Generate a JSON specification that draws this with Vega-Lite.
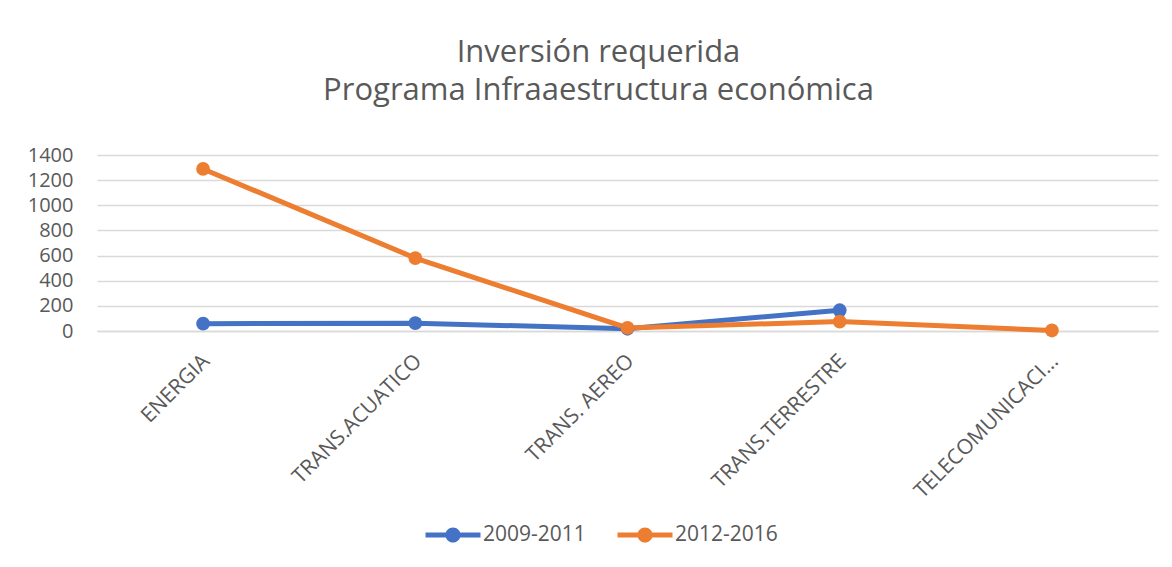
{
  "$schema": "https://vega.github.io/schema/vega-lite/v6.json",
  "width": 1061,
  "height": 176,
  "autosize": {"type": "none"},
  "padding": {"left": 97, "top": 155, "right": 14, "bottom": 236},
  "background": "white",
  "title": {
    "text": ["Inversión requerida", "Programa Infraaestructura económica"],
    "font": "Open Sans",
    "fontSize": 31,
    "fontWeight": "normal",
    "color": "#595959",
    "lineHeight": 38,
    "anchor": "middle",
    "frame": "group",
    "dx": -29,
    "offset": 38
  },
  "data": {
    "values": [
      {"sector": "ENERGIA", "periodo": "2009-2011", "valor": 58},
      {"sector": "TRANS.ACUATICO", "periodo": "2009-2011", "valor": 62},
      {"sector": "TRANS. AEREO", "periodo": "2009-2011", "valor": 18},
      {"sector": "TRANS.TERRESTRE", "periodo": "2009-2011", "valor": 165},
      {"sector": "ENERGIA", "periodo": "2012-2016", "valor": 1289},
      {"sector": "TRANS.ACUATICO", "periodo": "2012-2016", "valor": 580},
      {"sector": "TRANS. AEREO", "periodo": "2012-2016", "valor": 24},
      {"sector": "TRANS.TERRESTRE", "periodo": "2012-2016", "valor": 75},
      {"sector": "TELECOMUNICACIONES", "periodo": "2012-2016", "valor": 4}
    ]
  },
  "mark": {
    "type": "line",
    "strokeWidth": 5,
    "point": {"filled": true, "size": 190, "opacity": 1}
  },
  "encoding": {
    "x": {
      "field": "sector",
      "type": "nominal",
      "sort": ["ENERGIA", "TRANS.ACUATICO", "TRANS. AEREO", "TRANS.TERRESTRE", "TELECOMUNICACIONES"],
      "scale": {"type": "point", "padding": 0.5},
      "axis": {
        "title": null,
        "labelAngle": -45,
        "labelFont": "Open Sans",
        "labelFontSize": 21,
        "labelColor": "#595959",
        "labelPadding": 19,
        "labelOffset": -5,
        "labelLimit": 400,
        "labelExpr": "datum.label == 'TELECOMUNICACIONES' ? 'TELECOMUNICACI...' : datum.label",
        "ticks": false,
        "domain": true,
        "domainColor": "#D9D9D9",
        "domainWidth": 1.5,
        "grid": false
      }
    },
    "y": {
      "field": "valor",
      "type": "quantitative",
      "scale": {"domain": [0, 1400], "nice": false},
      "axis": {
        "title": null,
        "values": [0, 200, 400, 600, 800, 1000, 1200, 1400],
        "format": "d",
        "labelFont": "Open Sans",
        "labelFontSize": 20,
        "labelColor": "#595959",
        "labelPadding": 24,
        "ticks": false,
        "domain": false,
        "grid": true,
        "gridColor": "#D9D9D9",
        "gridWidth": 1.5
      }
    },
    "color": {
      "field": "periodo",
      "type": "nominal",
      "scale": {"domain": ["2009-2011", "2012-2016"], "range": ["#4472C4", "#ED7D31"]},
      "legend": {
        "title": null,
        "orient": "none",
        "direction": "horizontal",
        "legendX": 342,
        "legendY": 366,
        "symbolType": "M -2 -0.18 L 2 -0.18 L 2 0.18 L -2 0.18 Z M 0.55 0 A 0.55 0.55 0 1 1 -0.55 0 A 0.55 0.55 0 1 1 0.55 0 Z",
        "symbolSize": 756,
        "symbolStrokeWidth": 0,
        "labelOffset": 16,
        "columnPadding": 31,
        "labelFont": "Open Sans",
        "labelFontSize": 21,
        "labelColor": "#595959",
        "encode": {
          "symbols": {"update": {"fill": {"scale": "color", "field": "value"}, "opacity": {"value": 1}}}
        }
      }
    }
  },
  "config": {
    "view": {"stroke": null}
  }
}
